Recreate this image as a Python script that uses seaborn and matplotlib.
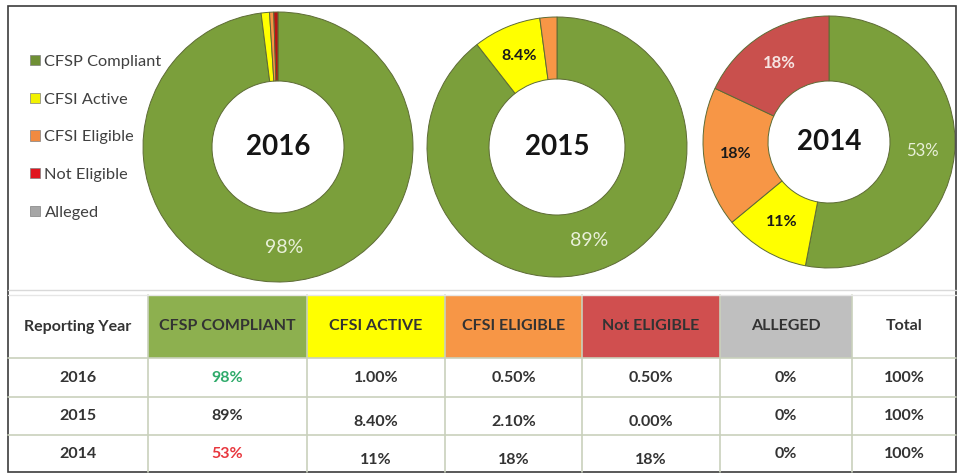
import matplotlib
matplotlib.use("Agg")
import matplotlib.pyplot as plt
import seaborn as sns
from matplotlib.patches import Patch, Rectangle
import numpy as np

sns.set_theme(style="white")
plt.rcParams['font.family'] = ['Lato', 'DejaVu Sans']

# data
categories = ['CFSP Compliant', 'CFSI Active', 'CFSI Eligible', 'Not Eligible', 'Alleged']
years = ['2016', '2015', '2014']
compliant = [98, 89, 53]
active = [1.0, 8.4, 11]
eligible = [0.5, 2.1, 18]
not_eligible = [0.5, 0.0, 18]
alleged = [0, 0, 0]

header = ['Reporting Year', 'CFSP COMPLIANT', 'CFSI ACTIVE', 'CFSI ELIGIBLE',
          'Not ELIGIBLE', 'ALLEGED', 'Total']
tbl_compliant = ['98%', '89%', '53%']
tbl_active = ['1.00%', '8.40%', '11%']
tbl_eligible = ['0.50%', '2.10%', '18%']
tbl_not_eligible = ['0.50%', '0.00%', '18%']
tbl_alleged = ['0%', '0%', '0%']
tbl_total = ['100%', '100%', '100%']

colors = ['#7b9f3b', '#ffff00', '#f79646', '#c9504d', '#a6a6a6']
legend_colors = ['#6f8f35', '#f2f200', '#f08a40', '#e0141e', '#a6a6a6']
header_colors = ['#ffffff', '#8db04f', '#ffff00', '#f79646', '#d04f4f', '#bfbfbf', '#ffffff']

W, H = 959, 475
fig = plt.figure(figsize=(W / 100, H / 100), dpi=100)
ax = fig.add_axes([0, 0, 1, 1])

# donuts: center x, center y (from top), outer radius, inner radius
geom = [(278, 147, 135, 66), (557, 147, 130, 68), (829, 142, 126, 61)]

for i, yr in enumerate(years):
    cx, cy, R, r = geom[i]
    vals = [compliant[i], active[i], eligible[i], not_eligible[i], alleged[i]]
    keep = [k for k, v in enumerate(vals) if v > 0]
    # tiny red sliver in 2016 is the darker red
    cols = [colors[k] if not (k == 3 and vals[k] < 5) else '#b81414' for k in keep]
    wedges, _ = ax.pie([vals[k] for k in keep], colors=cols,
                       startangle=90, counterclock=False, center=(cx, H - cy),
                       radius=R, frame=True,
                       wedgeprops=dict(width=R - r, edgecolor='#5d6b35', linewidth=0.7))
    for w, k in zip(wedges, keep):
        v = vals[k]
        if v < 5:
            continue
        ang = np.deg2rad((w.theta1 + w.theta2) / 2)
        rad = (R + r) / 2
        x, y = cx + rad * np.cos(ang), H - cy + rad * np.sin(ang)
        if k == 0:
            fs = 14 if v > 80 else 12
            ax.text(x, y, f"{v:g}%", ha='center', va='center', fontsize=fs,
                    color='#e9f0d9')
        elif k == 3:
            ax.text(x, y, f"{v:g}%", ha='center', va='center', fontsize=12,
                    color='#f6e4e2', fontweight='bold')
        else:
            ax.text(x, y, f"{v:g}%", ha='center', va='center', fontsize=11.5,
                    color='#1a1a1a', fontweight='bold')
    ax.text(cx, H - cy, yr, ha='center', va='center', fontsize=20,
            fontweight='bold', color='#151515')

# legend
handles = [Patch(facecolor=c, edgecolor='#808080', linewidth=0.5) for c in legend_colors]
ax.legend(handles, categories, loc='upper left', bbox_to_anchor=(15, H - 40),
          bbox_transform=ax.transData, frameon=False, fontsize=11.8,
          handlelength=0.6, handleheight=0.6, handletextpad=0.3,
          labelspacing=1.45, labelcolor='#404040')

# table
col_edges = [8, 148, 307, 445, 582, 720, 852, 956]
row_edges = [295, 358, 397, 435, 472]
columns = [years, tbl_compliant, tbl_active, tbl_eligible, tbl_not_eligible,
           tbl_alleged, tbl_total]

for j, name in enumerate(header):
    x0, x1 = col_edges[j], col_edges[j + 1]
    y0, y1 = row_edges[0], row_edges[1]
    ax.add_patch(Rectangle((x0, H - y1), x1 - x0, y1 - y0,
                           facecolor=header_colors[j], edgecolor='none'))
    ax.text((x0 + x1) / 2, H - (y0 + y1) / 2, name, ha='center', va='center',
            fontsize=11.5, fontweight='bold', color='#333333')

for j, col in enumerate(columns):
    x0, x1 = col_edges[j], col_edges[j + 1]
    for i, txt in enumerate(col):
        y0, y1 = row_edges[i + 1], row_edges[i + 2]
        dy = 6 if (i > 0 and 2 <= j <= 4) else 0
        if j == 1 and i == 0:
            c = '#2eaa6a'
        elif j == 1 and i == 2:
            c = '#e8373e'
        else:
            c = '#333333'
        ax.text((x0 + x1) / 2, H - (y0 + y1) / 2 - dy, txt, ha='center',
                va='center', fontsize=11.5, fontweight='bold', color=c)

grid_c = '#c9d1bc'
for y in row_edges[1:-1]:
    ax.plot([col_edges[0], col_edges[-1]], [H - y, H - y], color=grid_c, lw=1.2)
for x in col_edges[1:-1]:
    ax.plot([x, x], [H - row_edges[0], H - row_edges[-1]], color=grid_c, lw=1.2)
ax.plot([col_edges[0], col_edges[-1]], [H - row_edges[0], H - row_edges[0]],
        color='#e6e6e6', lw=1)
ax.plot([8, 956], [H - 290, H - 290], color='#d9d9d9', lw=1)

# outer frame
ax.add_patch(Rectangle((8, H - 472), 948, 466, facecolor='none',
                       edgecolor='#3c3c3c', linewidth=1.2))

ax.set_xlim(0, W)
ax.set_ylim(0, H)
ax.set_aspect('equal')
ax.axis('off')

fig.savefig('out.png', dpi=100)
